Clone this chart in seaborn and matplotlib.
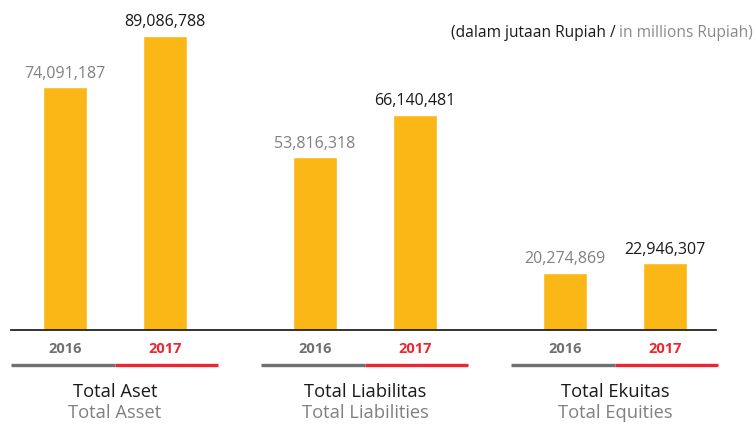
import pandas as pd
import matplotlib.pyplot as plt
import matplotlib.transforms as mtransforms
import seaborn as sns

# Data (in millions Rupiah)
groups_id = ['Total Aset', 'Total Liabilitas', 'Total Ekuitas']
groups_en = ['Total Asset', 'Total Liabilities', 'Total Equities']
years = ['2016', '2017']
values_2016 = [74091187, 53816318, 20274869]
values_2017 = [89086788, 66140481, 22946307]

df = pd.DataFrame({
    'group': groups_id * 2,
    'year': [years[0]] * 3 + [years[1]] * 3,
    'value': values_2016 + values_2017,
})

sns.set_style('white')
plt.rcParams['font.family'] = ['Open Sans', 'DejaVu Sans']

bar_color = '#FBB715'
grey = '#707070'
red = '#EE2631'

fig = plt.figure(figsize=(7.56, 4.25), dpi=100)
ax = fig.add_axes([11 / 756, 95 / 425, 705 / 756, 330 / 425])

sns.barplot(data=df, x='group', y='value', hue='year', order=groups_id, hue_order=years,
            palette=[bar_color, bar_color], saturation=1, width=0.8, gap=0.56,
            legend=False, ax=ax)

ax.set_xlim(-0.416, 2.404)
ax.set_ylim(3.6e6, 99.5e6)
for side in ['left', 'right', 'top']:
    ax.spines[side].set_visible(False)
ax.spines['bottom'].set_color('#111111')
ax.spines['bottom'].set_linewidth(1.2)
ax.set_xticks([])
ax.set_yticks([])
ax.set_xlabel('')
ax.set_ylabel('')

# value labels
label_colors = ['#808080', '#1a1a1a']
for cont, c in zip(ax.containers, label_colors):
    ax.bar_label(cont, labels=[f'{v:,.0f}' for v in cont.datavalues], padding=4,
                 color=c, fontsize=11.5)

# year labels, underlines and group names below the axis
trans = mtransforms.blended_transform_factory(ax.transData, ax.transAxes)
year_colors = [grey, red]
for i in range(len(groups_id)):
    for j, cont in enumerate(ax.containers):
        p = cont.patches[i]
        cx = p.get_x() + p.get_width() / 2
        ax.text(cx, -0.058, years[j], transform=trans, ha='center', va='center',
                fontsize=10.5, fontweight='bold', color=year_colors[j])
    ax.plot([i - 0.416, i], [-0.106, -0.106], transform=trans, color=grey,
            lw=2.4, clip_on=False, solid_capstyle='butt')
    ax.plot([i, i + 0.412], [-0.106, -0.106], transform=trans, color=red,
            lw=2.4, clip_on=False, solid_capstyle='butt')
    ax.text(i, -0.188, groups_id[i], transform=trans, ha='center', va='center',
            fontsize=13.2, color='#1a1a1a')
    ax.text(i, -0.252, groups_en[i], transform=trans, ha='center', va='center',
            fontsize=13.2, color='#808080')

# unit note
note_y = 1 - 33 / 425
t1 = fig.text(0.996, note_y, 'in millions Rupiah)', ha='right', va='center',
              fontsize=11.2, color='#8a8a8a')
fig.canvas.draw()
bb = t1.get_window_extent()
fig.text(bb.x0 / fig.bbox.width, note_y, '(dalam jutaan Rupiah / ', ha='right', va='center',
         fontsize=11.2, color='#1a1a1a')

fig.savefig('out.png', dpi=100)
